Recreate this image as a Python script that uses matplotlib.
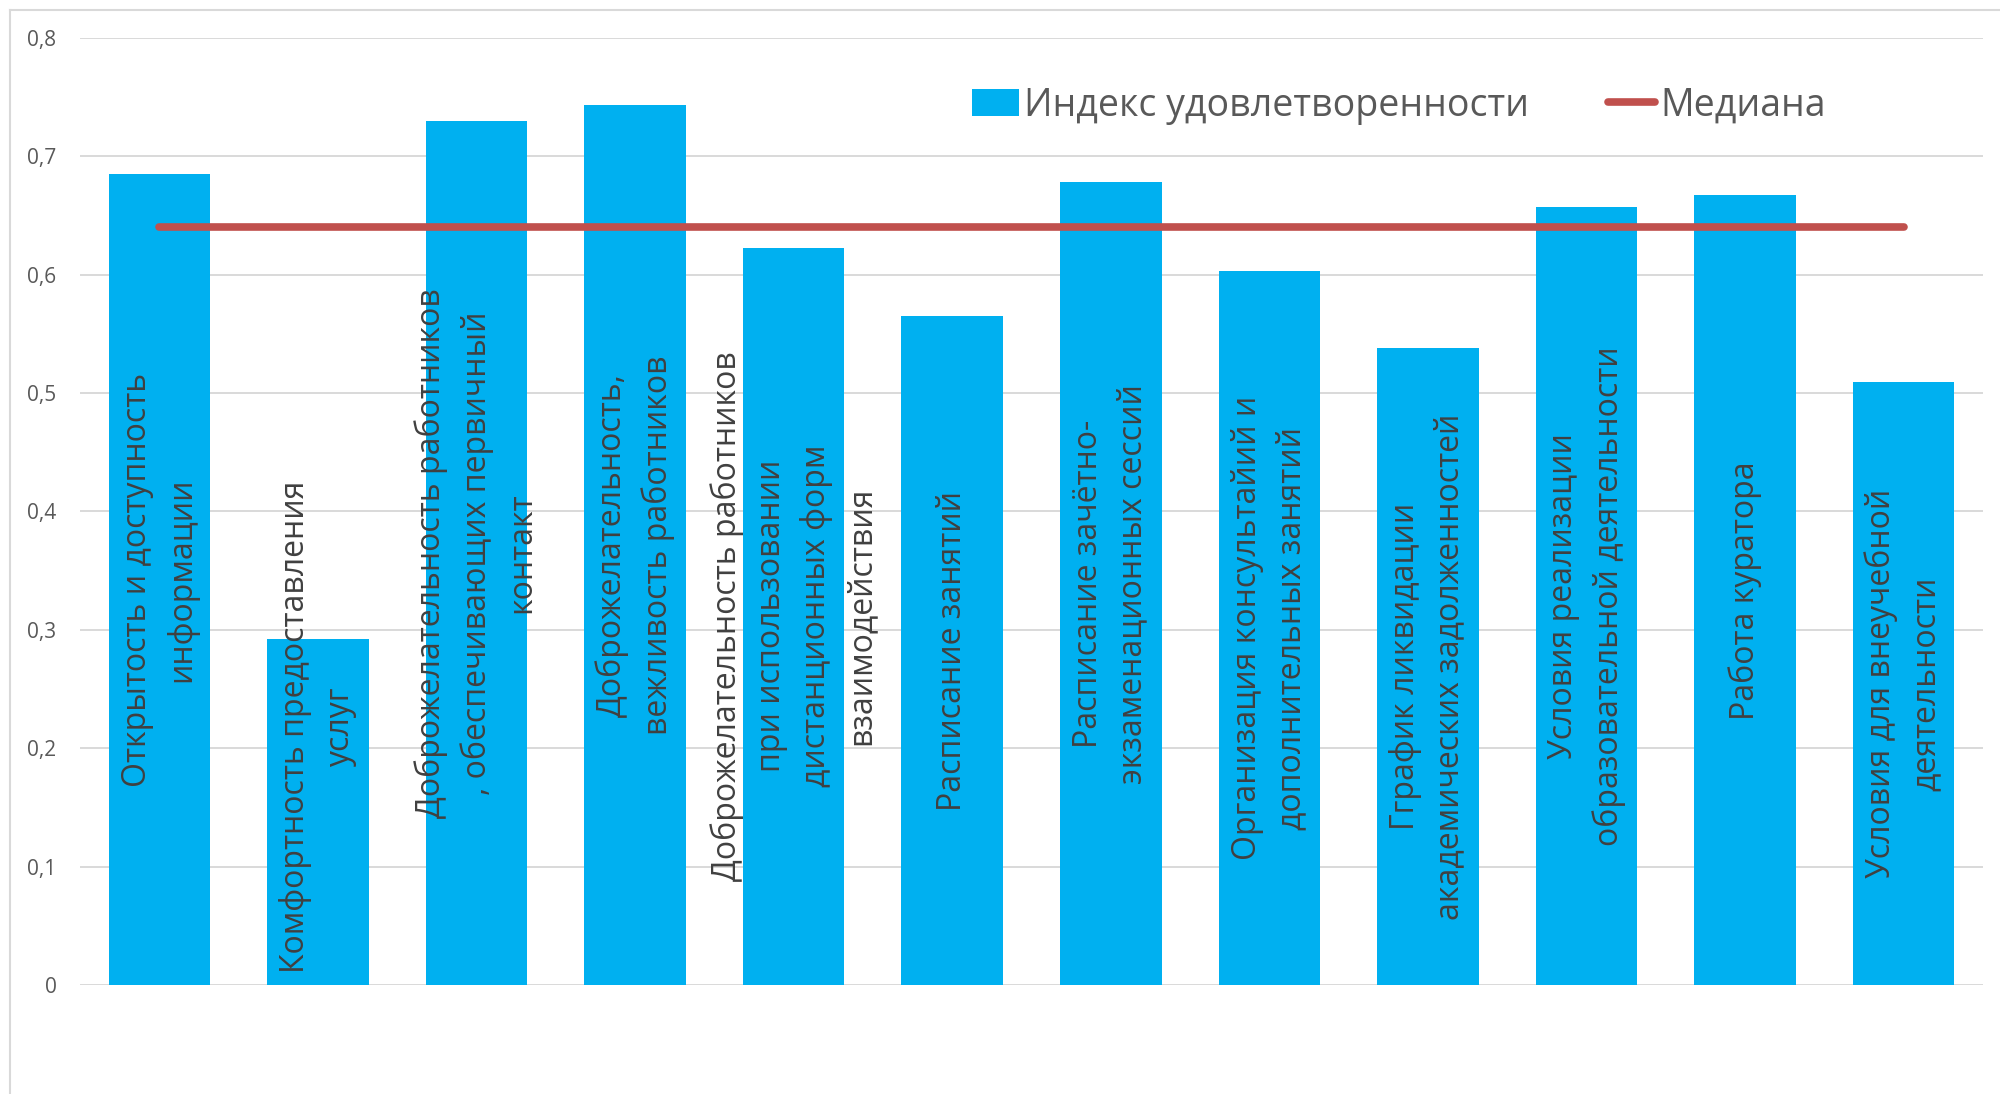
import numpy as np
import matplotlib.pyplot as plt
from matplotlib.patches import Patch
from matplotlib.lines import Line2D

plt.rcParams['font.family'] = ['Open Sans', 'DejaVu Sans']

categories = [
    'Открытость и доступность\nинформации',
    'Комфортность предоставления\nуслуг',
    'Доброжелательность работников\n, обеспечивающих первичный\nконтакт',
    'Доброжелательность,\nвежливость работников',
    'Доброжелательность работников\nпри использовании\nдистанционных форм\nвзаимодействия',
    'Расписание занятий',
    'Расписание зачётно-\nэкзаменационных сессий',
    'Организация консультайий и\nдополнительных занятий',
    'Гграфик ликвидации\nакадемических задолженностей',
    'Условия реализации\nобразовательной деятельности',
    'Работа куратора',
    'Условия для внеучебной\nдеятельности',
]
values = [0.685, 0.292, 0.730, 0.743, 0.623, 0.565, 0.678, 0.603, 0.538, 0.657, 0.667, 0.509]
median = 0.640
yticks = [0, 0.1, 0.2, 0.3, 0.4, 0.5, 0.6, 0.7, 0.8]
ytick_labels = ['0', '0,1', '0,2', '0,3', '0,4', '0,5', '0,6', '0,7', '0,8']

bar_color = '#00B0F0'
line_color = '#C0504D'

fig = plt.figure(figsize=(20, 10.94), dpi=100)
ax = fig.add_axes([0.04, 0.0996, 0.9515, 0.8657])

x = np.arange(len(values))
ax.bar(x, values, width=0.64, color=bar_color, zorder=2)
ax.plot([x[0], x[-1]], [median, median], color=line_color, lw=5.5,
        solid_capstyle='round', zorder=3)

# подписи внутри столбцов (по центру, но не ниже нуля)
for xi, v, lab in zip(x, values, categories):
    yc = max(v / 2, 0.218)
    ax.text(xi, yc, lab, rotation=90, ha='center', va='center',
            multialignment='center', fontsize=23, color='#404040',
            linespacing=1.46, zorder=4)

ax.set_xlim(-0.5, len(values) - 0.5)
ax.set_ylim(0, 0.8)
ax.set_yticks(yticks)
ax.set_yticklabels(ytick_labels, fontsize=15, color='#595959')
ax.set_xticks([])
ax.tick_params(axis='y', length=0, pad=17)
ax.yaxis.grid(True, color='#D9D9D9', lw=1.4)
ax.set_axisbelow(True)
for s in ax.spines.values():
    s.set_visible(False)

handles = [Patch(facecolor=bar_color, edgecolor='none'),
           Line2D([0], [0], color=line_color, lw=5.5, solid_capstyle='round')]
fig.legend(handles, ['Индекс удовлетворенности', 'Медиана'],
           loc='center left', bbox_to_anchor=(0.469, 0.9035), ncol=2,
           frameon=False, fontsize=27, labelcolor='#595959',
           handlelength=1.25, handleheight=0.75, handletextpad=0.15,
           columnspacing=2.1)

# рамка диаграммы
fig.add_artist(Line2D([0.005, 0.005], [0, 0.991], color='#D9D9D9', lw=1.5))
fig.add_artist(Line2D([0.005, 1], [0.991, 0.991], color='#D9D9D9', lw=1.5))

fig.savefig('out.png', dpi=100)
